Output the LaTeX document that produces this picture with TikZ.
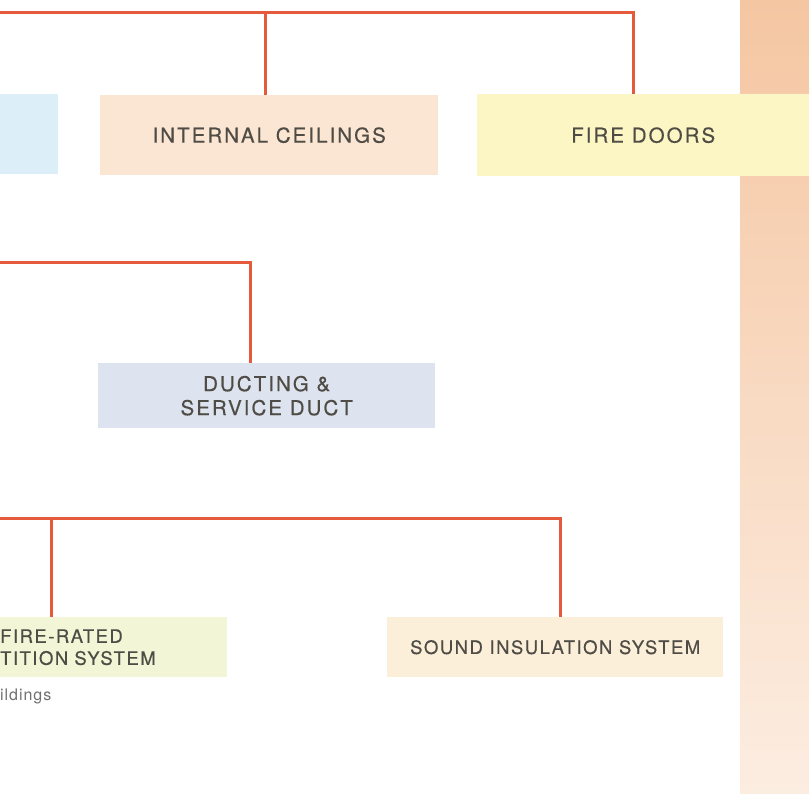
\documentclass[tikz,border=0pt]{standalone}
\usepackage{fontspec}
\setmainfont{TeX Gyre Heros}
\newfontfamily\boxfont[LetterSpace=10,FakeBold=0.4]{TeX Gyre Heros}
\newfontfamily\lowfont[LetterSpace=8,FakeBold=0.4]{TeX Gyre Heros}
\newfontfamily\notefont[LetterSpace=6]{TeX Gyre Heros}
\definecolor{linkred}{HTML}{E65A3C}
\definecolor{boxtext}{HTML}{4F4C45}
\definecolor{notegrey}{HTML}{707070}
\definecolor{bandtop}{HTML}{F5C6A2}
\definecolor{bandbot}{HTML}{FCEDE1}
\definecolor{skyblue}{HTML}{DCEFF8}
\definecolor{ceilpeach}{HTML}{FAE6D2}
\definecolor{dooryellow}{HTML}{FBF6C3}
\definecolor{ductgrey}{HTML}{DEE4EF}
\definecolor{partgreen}{HTML}{F2F5D6}
\definecolor{soundcream}{HTML}{FBEFDA}
\begin{document}
\begin{tikzpicture}
  [x=1pt,y=-1pt,every node/.style={inner sep=0pt,text=boxtext,align=center,
   font=\boxfont\fontsize{20.5}{24}\selectfont}]
  \tikzstyle{box} = [anchor=north west]
  \tikzstyle{lowbox} = [anchor=north west,font=\lowfont\fontsize{18.5}{22}\selectfont]
  \tikzstyle{link} = [draw=linkred,line width=3pt]
  % page and side band
  \fill[white] (0,0) rectangle (809,793);
  \useasboundingbox (0,0) rectangle (809,793);
  \shade[top color=bandtop,bottom color=bandbot] (740,0) rectangle (809,793);
  % boxes
  \node[box,fill=skyblue,minimum width=58,minimum height=80] (sky) at (0,94) {};
  \node[box,fill=ceilpeach,minimum width=338,minimum height=80] (ceil) at (100,95) {INTERNAL CEILINGS};
  \node[box,fill=dooryellow,minimum width=332,minimum height=82] (doors) at (477,94) {FIRE DOORS};
  \node[box,fill=ductgrey,minimum width=337,minimum height=65] (duct) at (98,363) {DUCTING \&\\SERVICE DUCT};
  \node[lowbox,fill=partgreen,text width=227,minimum height=60,align=left] (part) at (0,617) {FIRE-RATED\\TITION SYSTEM};
  \node[lowbox,fill=soundcream,minimum width=336,minimum height=60] (sound) at (387,617) {SOUND INSULATION SYSTEM};
  \node[anchor=base west,text=notegrey,font=\notefont\fontsize{16}{18}\selectfont] (note) at (0,700) {ildings};
  % links
  \coordinate (top) at (0,12);
  \coordinate (mid) at (0,262);
  \coordinate (low) at (0,518);
  \foreach \source/\dest/\dx in {top/ceil/-4,top/doors/-10,mid/duct/-16,low/part/-62.5,low/sound/5}
    \draw[link] (\source) -| ([xshift=\dx pt]\dest.north);
\end{tikzpicture}
\end{document}
